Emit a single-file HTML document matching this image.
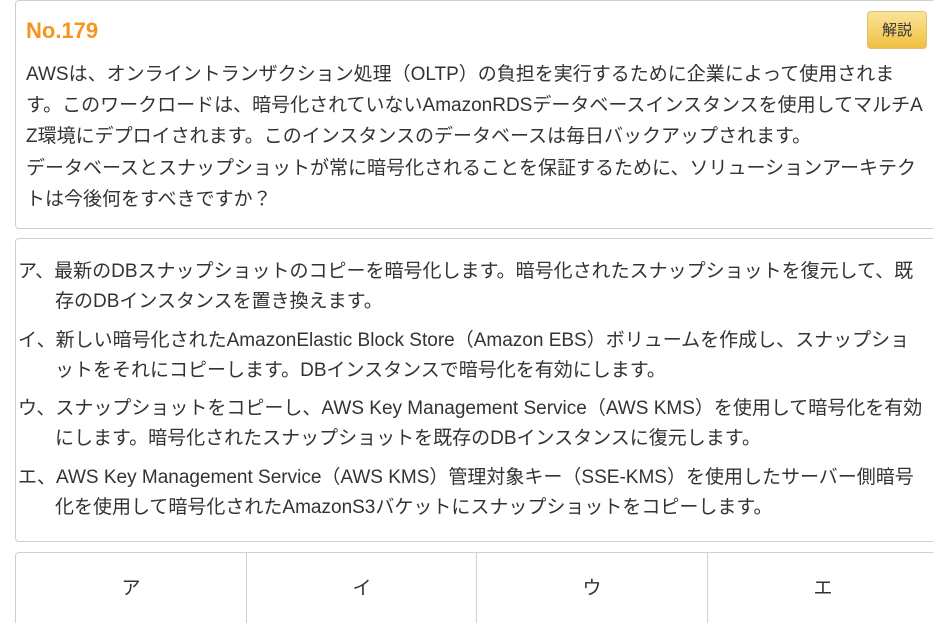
<!DOCTYPE html>
<html><head><meta charset="utf-8">
<style>
html,body{margin:0;padding:0;background:#fff;width:933px;height:623px;overflow:hidden;}
body{font-family:"Liberation Sans","Noto Sans CJK JP",sans-serif;color:#333;position:relative;}
.box{position:absolute;left:15px;width:935px;border:1px solid #d0d0d0;border-radius:4px;box-sizing:border-box;background:#fff;}
#b1{top:0;height:229px;}
#b2{top:238px;height:304px;}
#b3{top:552px;height:90px;}
.title{position:absolute;left:10px;top:17px;font-size:22px;font-weight:bold;color:#f7941d;}
.btn{position:absolute;left:851px;top:10px;width:60px;height:38px;border:1px solid #e0c070;border-radius:4px;background:linear-gradient(#fbe39a,#f0c040);font-size:15px;line-height:38px;text-align:center;color:#333;box-sizing:border-box;}
.q{position:absolute;left:10px;top:58px;font-size:19px;line-height:31.2px;white-space:nowrap;}
.opt{position:absolute;left:2px;font-size:19px;line-height:30px;white-space:nowrap;}
.opt div{padding-left:37px;}
.col{position:absolute;top:0;height:90px;border-left:1px solid #d0d0d0;}
.lab{position:absolute;top:20px;width:230px;text-align:center;font-size:19px;}
</style></head><body>
<div class="box" id="b1">
<div class="title">No.179</div>
<div class="btn">解説</div>
<div class="q">AWSは、オンライントランザクション処理（OLTP）の負担を実行するために企業によって使用されま<br>す。このワークロードは、暗号化されていないAmazonRDSデータベースインスタンスを使用してマルチA<br>Z環境にデプロイされます。このインスタンスのデータベースは毎日バックアップされます。<br>データベースとスナップショットが常に暗号化されることを保証するために、ソリューションアーキテク<br>トは今後何をすべきですか？</div>
</div>
<div class="box" id="b2">
<div class="opt" style="top:18px">ア、最新のDBスナップショットのコピーを暗号化します。暗号化されたスナップショットを復元して、既<div>存のDBインスタンスを置き換えます。</div></div>
<div class="opt" style="top:87px">イ、新しい暗号化されたAmazonElastic Block Store（Amazon EBS）ボリュームを作成し、スナップショ<div>ットをそれにコピーします。DBインスタンスで暗号化を有効にします。</div></div>
<div class="opt" style="top:155px">ウ、スナップショットをコピーし、AWS Key Management Service（AWS KMS）を使用して暗号化を有効<div>にします。暗号化されたスナップショットを既存のDBインスタンスに復元します。</div></div>
<div class="opt" style="top:224px">エ、AWS Key Management Service（AWS KMS）管理対象キー（SSE-KMS）を使用したサーバー側暗号<div>化を使用して暗号化されたAmazonS3バケットにスナップショットをコピーします。</div></div>
</div>
<div class="box" id="b3">
<div class="lab" style="left:0">ア</div>
<div class="col" style="left:230px"></div>
<div class="lab" style="left:231px">イ</div>
<div class="col" style="left:460px"></div>
<div class="lab" style="left:461px">ウ</div>
<div class="col" style="left:691px"></div>
<div class="lab" style="left:692px">エ</div>
</div>
</body></html>
